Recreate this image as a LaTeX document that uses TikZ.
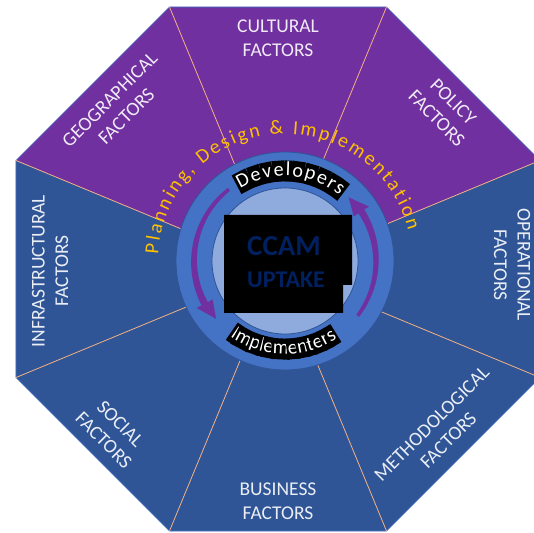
\documentclass[tikz,border=0pt]{standalone}
\usepackage{fontspec}
\setmainfont{Carlito}
\usetikzlibrary{decorations.text,calc}
\definecolor{octblue}{HTML}{2F5597}
\definecolor{octpurple}{HTML}{7030A0}
\definecolor{ringblue}{HTML}{4472C4}
\definecolor{innerblue}{HTML}{8FAADC}
\definecolor{divline}{HTML}{F4B183}
\definecolor{goldtext}{HTML}{FFC000}
\definecolor{navytext}{HTML}{002060}
\newcommand\ringarrow[3]{%
 \fill[octpurple] plot[domain=#1:#2, samples=40] ({285+(92.75+1.75*(\x-(#1))/((#2)-(#1)))*cos(\x)}, {271+(92.75+1.75*(\x-(#1))/((#2)-(#1)))*sin(\x)})
  -- ({285+100*cos(#2)},{271+100*sin(#2)}) -- ({285+90*cos(#3)},{271+90*sin(#3)}) -- ({285+82*cos(#2)},{271+82*sin(#2)})
  -- plot[domain=#2:#1, samples=40] ({285+(89.25-1.75*(\x-(#1))/((#2)-(#1)))*cos(\x)}, {271+(89.25-1.75*(\x-(#1))/((#2)-(#1)))*sin(\x)}) -- cycle;}
\begin{document}
\begin{tikzpicture}[x=1pt,y=1pt,
  factor/.style={align=center, text=white, text opacity=0.9, font=\fontsize{19.5}{23.5}\selectfont, inner sep=0pt},
  divider/.style={draw=divline, line width=0.8pt},
  ringtext/.style={fill=black, text=white, font=\fontsize{20}{22}\selectfont, inner xsep=1.5pt, inner ysep=1pt, text height=14.5pt, text depth=4.5pt}
]
\useasboundingbox (0,0) rectangle (534,532);
\clip (0,0) rectangle (534,532);
\coordinate (O) at (278,263);
\foreach \i in {0,...,7} \coordinate (v\i) at ($(O)+(22.5+45*\i:283.6pt)$);
\fill[octblue] (O) -- (v3) -- (v4) -- (v5) -- (v6) -- (v7) -- (v0) -- cycle;
\fill[octpurple] (O) -- (v0) -- (v1) -- (v2) -- (v3) -- cycle;
\draw[ringblue, line width=0.6pt] (v0) -- (v1) -- (v2) -- (v3) -- (v4) -- (v5) -- (v6) -- (v7) -- cycle;
\foreach \i in {0,...,7} \draw[divider] (O) -- (v\i);
% labels
\node[factor] (cultural) at (278,494) {CULTURAL\\FACTORS};
\node[factor, rotate=-45] (policy) at (445,422) {POLICY\\FACTORS};
\node[factor, rotate=-90] (operational) at (512,267) {OPERATIONAL\\FACTORS};
\node[factor, rotate=45] (methodological) at (440,100) {METHODOLOGICAL\\FACTORS};
\node[factor] (business) at (278,31) {BUSINESS\\FACTORS};
\node[factor, rotate=-45] (social) at (112,100) {SOCIAL\\FACTORS};
\node[factor, rotate=90] (infrastructural) at (50,261) {INFRASTRUCTURAL\\FACTORS};
\node[factor, rotate=45] (geographical) at (118,424) {GEOGRAPHICAL\\FACTORS};
% circles
\coordinate (C) at (285,271);
\node[circle, fill=ringblue, draw=octblue, line width=0.8pt, minimum size=218pt, inner sep=0pt] (ring) at (C) {};
\node[circle, fill=innerblue, draw=octblue, line width=0.8pt, minimum size=146pt, inner sep=0pt] (core) at (C) {};
% arrows
\ringarrow{128}{208}{220}
\ringarrow{-37}{33}{45}
% centre
\fill[black] (224,317) -- (352,317) -- (352,247) -- (343,247) -- (343,219) -- (224,219) -- cycle;
\node[font=\fontsize{29}{31}\selectfont\bfseries, text=navytext] (ccam) at (284,286) {CCAM};
\node[font=\fontsize{24}{26}\selectfont\bfseries, text=navytext] (uptake) at (286,252) {UPTAKE};
% arc texts
\path[decorate, decoration={text along path, text={|\fontsize{20}{22}\selectfont\color{goldtext}|Planning, Design {\&} Implementation}, text align=fit to path}]
  ($(C)+(177:127pt)$) arc[start angle=177, end angle=14, radius=127pt];
\begin{scope}[font=\fontsize{20}{22}\selectfont]
\path[decorate, decoration={text effects along path, text={Developers}, text align=center,
  text effects/.cd, text along path, characters={ringtext}, character widths={font=\fontsize{20}{22}\selectfont, inner xsep=0.8pt}}]
  ($(C)+(128:85pt)$) arc[start angle=128, end angle=44, radius=85pt];
\path[decorate, decoration={text effects along path, text={Implementers}, text align=center,
  text effects/.cd, text along path, characters={ringtext}, character widths={font=\fontsize{20}{22}\selectfont, inner xsep=0pt}}]
  ($(C)+(224:93pt)$) arc[start angle=224, end angle=314, radius=93pt];
\end{scope}
\end{tikzpicture}
\end{document}
